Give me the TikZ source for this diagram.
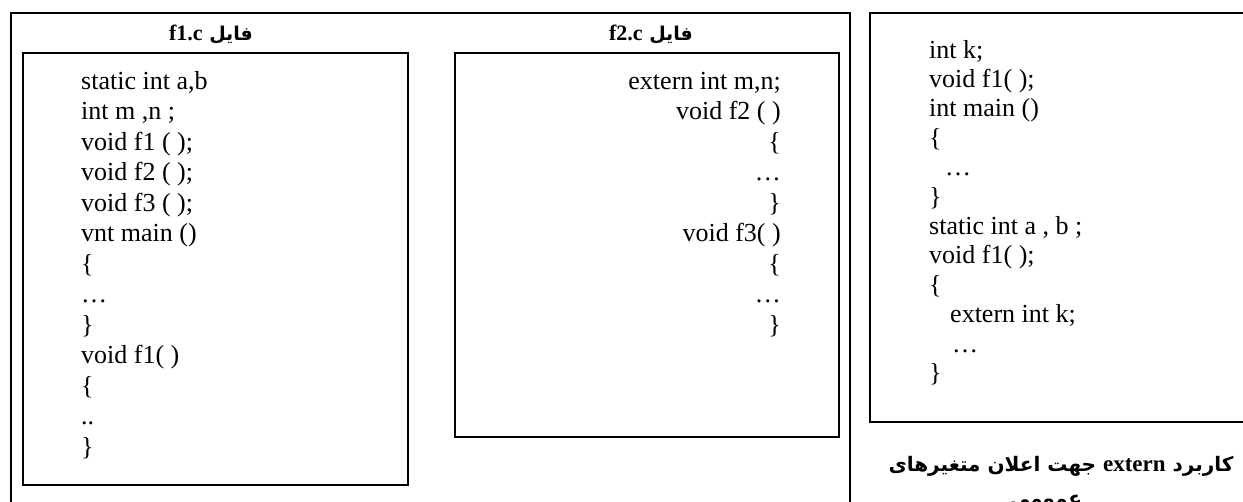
\documentclass[tikz,border=0pt]{standalone}
\usepackage{fontspec}
\setmainfont{Liberation Serif}
\newfontfamily\arabicfont[Script=Arabic]{DejaVu Sans}
\TeXXeTstate=1
\begin{document}
\begin{tikzpicture}[x=1pt,y=-1pt,
  frame/.style={draw=black,line width=1.6pt,inner sep=0pt,anchor=north west},
  code/.style={inner sep=0pt,font=\fontsize{26}{30.5}\selectfont},
  head/.style={inner sep=0pt,anchor=base,font=\arabicfont\bfseries\fontsize{19}{22}\selectfont},
  capt/.style={inner sep=0pt,anchor=base,font=\arabicfont\bfseries\fontsize{20}{24}\selectfont}]
\useasboundingbox (0,0) rectangle (1243,502);
\clip (0,0) rectangle (1243,502);
\fill[white] (0,0) rectangle (1243,502);
% boxes
\node[frame,minimum width=839pt,minimum height=510pt] (outer) at (10,12) {};
\node[frame,minimum width=385pt,minimum height=432pt] (f1box) at (22,52) {};
\node[frame,minimum width=384pt,minimum height=384pt] (f2box) at (454,52) {};
\node[frame,minimum width=390pt,minimum height=409pt] (rbox) at (869,12) {};
% headers
\node[head] (h1) at (211,41) {\beginR فایل \beginL{\rmfamily\bfseries\fontsize{22}{22}\selectfont f1.c}\endL\endR};
\node[head] (h2) at (651,41) {\beginR فایل \beginL{\rmfamily\bfseries\fontsize{22}{22}\selectfont f2.c}\endL\endR};
% f1 code
\node[code,align=left,anchor=north west] (c1) at (81,69) {\rule{0pt}{20pt}static int a,b\\
int m ,n ;\\
void f1 ( );\\
void f2 ( );\\
void f3 ( );\\
vnt main ()\\
\{\\
…\\
\}\\
void f1( )\\
\{\\
..\\
\}};
% f2 code
\node[code,align=right,anchor=north east] (c2) at (781,69) {\rule{0pt}{20pt}extern int m,n;\\
void f2 ( )\\
\{\\
…\\
\}\\
void f3( )\\
\{\\
…\\
\}\hspace{4pt}};
% right code
\node[code,align=left,anchor=north west,font=\fontsize{26}{29.4}\selectfont] (c3) at (929,38) {\rule{0pt}{20pt}int k;\\
void f1( );\\
int main ()\\
\{\\
\hspace{16pt}…\\
\}\\
static int a , b ;\\
void f1( );\\
\{\\
\hspace{21pt}extern int k;\\
\hspace{23pt}…\\
\}};
% caption
\node[capt] (cap1) at (1061,472) {\beginR کاربرد \beginL{\rmfamily\bfseries\fontsize{23}{24}\selectfont extern}\endL{} جهت اعلان متغیرهای\endR};
\node[capt] (cap2) at (1046,506) {\beginR عمومی\endR};
\end{tikzpicture}
\end{document}
